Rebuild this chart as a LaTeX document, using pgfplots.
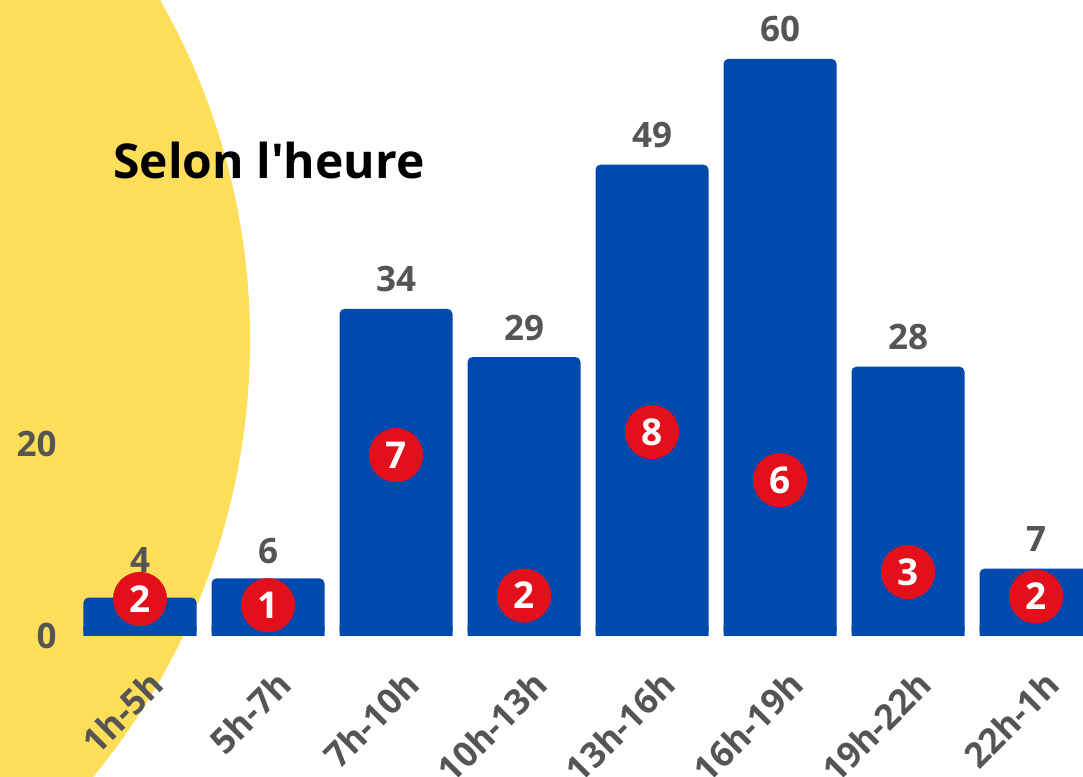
\documentclass[border=0pt]{standalone}
\usepackage{pgfplots}
\usepackage{pgfplotstable}
\pgfplotsset{compat=1.18}
\usepackage{fontspec}
\setmainfont{Open Sans}
\newfontfamily\titlefont{Open Sans}
\definecolor{barblue}{HTML}{004AAD}
\definecolor{dotred}{HTML}{E3101B}
\definecolor{sunyel}{HTML}{FFDE59}
\definecolor{txtgray}{HTML}{555555}
\pgfplotstableread{
x y lift
0 4 12.5
1 6 7.5
2 34 8.5
3 29 8.5
4 49 8.5
5 60 8.5
6 28 8.5
7 7 8.5
}\bars
\pgfplotstableread{
x y n
0 3.85 2
1 3.2 1
2 18.8 7
3 4.2 2
4 21.2 8
5 16.2 6
6 6.65 3
7 4.1 2
}\dots
\begin{document}
\begin{tikzpicture}
\useasboundingbox (0,0) rectangle (541.5pt,388.5pt);
\clip (0,0) rectangle (541.5pt,388.5pt);
\fill[sunyel] (-218.5pt,218.5pt) circle (343.5pt);
\node[anchor=base west, inner sep=0pt, font=\titlefont\fontsize{24}{28}\selectfont\bfseries] at (56.5pt,299pt) {Selon l'heure};
\begin{axis}[
  at={(38pt,70.5pt)}, anchor=south west,
  scale only axis, width=512pt, height=317.46pt,
  xmin=-0.5, xmax=7.5, ymin=0, ymax=66,
  clip=false,
  axis line style={draw=none},
  major tick length=0pt,
  xtick={0,...,7},
  xticklabels={1h-5h,5h-7h,7h-10h,10h-13h,13h-16h,16h-19h,19h-22h,22h-1h},
  ytick={0,20},
  tick label style={font=\fontsize{17.5}{20}\selectfont\bfseries, text=txtgray, inner sep=0pt},
  yticklabel style={anchor=east, xshift=-9.5pt},
  xticklabel style={xshift=8.5pt, yshift=-21pt, rotate=45, anchor=east},
  /pgf/number format/assume math mode=true,
]
% square foot of each bar (same data, capped) so that only the top corners are rounded
\addplot[ybar, bar width=56.5pt, bar shift=0pt, fill=barblue, draw=none,
  y filter/.expression={min(y,1)}]
  table[x=x, y=y] {\bars};
\addplot[ybar, bar width=56.5pt, bar shift=0pt, fill=barblue, draw=none, rounded corners=2.5pt,
  visualization depends on={\thisrow{lift} \as \lift},
  nodes near coords,
  nodes near coords style={anchor=base, yshift=\lift pt, text=txtgray, inner sep=0pt,
    font=\fontsize{17.5}{20}\selectfont\bfseries, /pgf/number format/assume math mode=true}]
  table[x=x, y=y] {\bars};
\addplot[only marks, color=dotred, mark=*, mark size=13.3pt, mark options={fill=dotred, draw=dotred},
  point meta=explicit symbolic,
  nodes near coords,
  nodes near coords style={anchor=center, text=white, inner sep=0pt,
    font=\fontsize{18.5}{20}\selectfont\bfseries}]
  table[x=x, y=y, meta=n] {\dots};
\end{axis}
\end{tikzpicture}
\end{document}
